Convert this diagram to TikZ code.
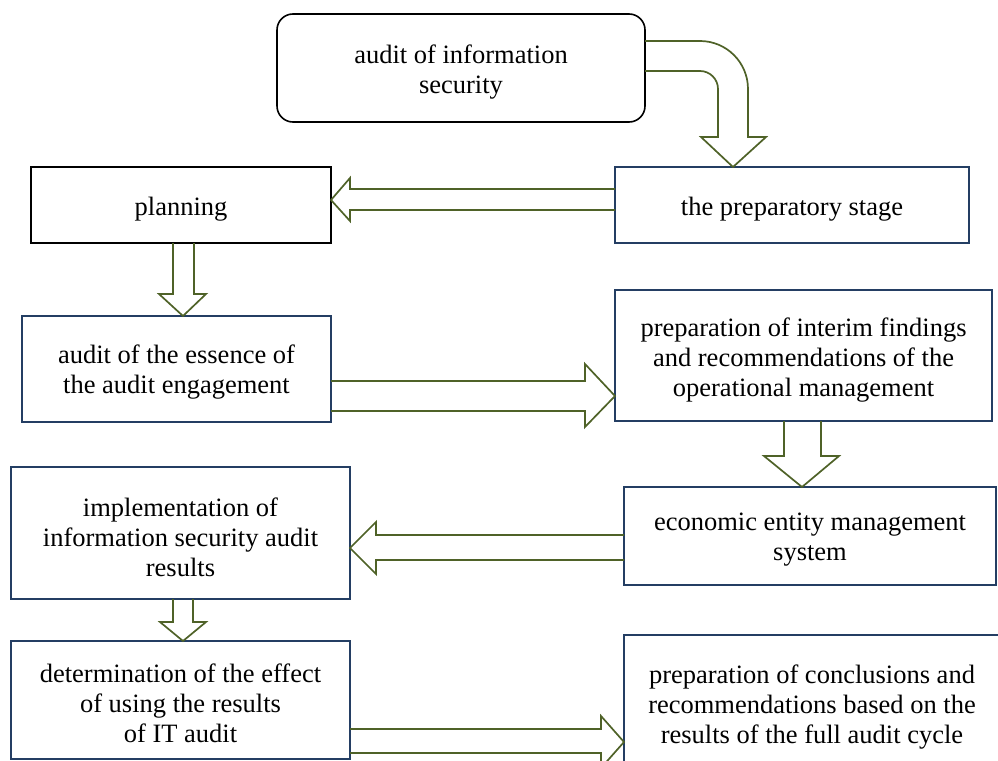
\documentclass[tikz,border=0pt]{standalone}
\usepackage{fontspec}
\setmainfont{Liberation Serif}
\usetikzlibrary{calc}
\definecolor{boxblue}{RGB}{36,62,99}
\definecolor{arrgreen}{RGB}{79,98,40}
\begin{document}
\begin{tikzpicture}[x=1pt,y=1pt,
  box/.style={draw=boxblue, line width=1.6pt, rectangle, outer sep=0pt},
  blackbox/.style={box, draw=black},
  lbl/.style={align=center, inner sep=0pt, font=\fontsize{26.5}{30}\selectfont},
  blk/.style={draw=arrgreen, line width=1.7pt, line join=miter}]
\useasboundingbox (0,0) rectangle (998,-760);
\clip (0,0) rectangle (998,-760);
% boxes
\node[blackbox, rounded corners=16pt, minimum width=368pt, minimum height=108pt] (top) at (461,-68) {};
\node[blackbox, minimum width=300pt, minimum height=76pt] (plan) at (181,-205) {};
\node[box, minimum width=354pt, minimum height=76pt] (prep) at (792,-205) {};
\node[box, minimum width=309pt, minimum height=106pt] (ess) at (176.5,-369) {};
\node[box, minimum width=377pt, minimum height=131pt] (int) at (803.5,-355.5) {};
\node[box, minimum width=372pt, minimum height=98pt] (eco) at (810,-536) {};
\node[box, minimum width=339pt, minimum height=132pt] (imp) at (180.5,-533) {};
\node[box, minimum width=339pt, minimum height=118pt] (det) at (180.5,-700) {};
\node[box, minimum width=376pt, minimum height=136pt] (con) at (812,-703) {};
% texts
\node[lbl] (topT) at ([yshift=-4.5pt]top.center) {audit of information\\security};
\node[lbl] (planT) at ([yshift=-4.5pt]plan.center) {planning};
\node[lbl] (prepT) at ([yshift=-4.5pt]prep.center) {the preparatory stage};
\node[lbl] (essT) at ([yshift=-3.5pt]ess.center) {audit of the essence of\\the audit engagement};
\node[lbl] (intT) at ([yshift=-4.5pt]int.center) {preparation of interim findings\\and recommendations of the\\operational management};
\node[lbl] (ecoT) at ([yshift=-4pt]eco.center) {economic entity management\\system};
\node[lbl] (impT) at ([yshift=-4pt]imp.center) {implementation of\\information security audit\\results};
\node[lbl] (detT) at ([yshift=-3pt]det.center) {determination of the effect\\of using the results\\of IT audit};
\node[lbl] (conT) at ([yshift=-4pt]con.center) {preparation of conclusions and\\recommendations based on the\\results of the full audit cycle};
% curved arrow top -> prep
\draw[blk] (top.east |- 0,-41) -- (700,-41) arc[start angle=90, end angle=0, radius=48pt]
  -- (748,-137) -- (766,-137) -- (prep.north -| 733,0) -- (701,-137) -- (718,-137)
  -- (718,-89) arc[start angle=0, end angle=90, radius=18pt] -- (top.east |- 0,-71);
% prep -> plan
\draw[blk] (prep.west |- 0,-189) -- (350,-189) -- (350,-178) -- (plan.east |- 0,-200)
  -- (350,-221) -- (350,-210) -- (prep.west |- 0,-210);
% plan -> essence
\draw[blk] (plan.south -| 173,0) -- (173,-294) -- (159,-294) -- (ess.north -| 183,0)
  -- (206,-294) -- (194,-294) -- (plan.south -| 194,0);
% essence -> interim
\draw[blk] (ess.east |- 0,-381) -- (585,-381) -- (585,-364) -- (int.west |- 0,-396)
  -- (585,-427) -- (585,-411) -- (ess.east |- 0,-411);
% interim -> economic
\draw[blk] (int.south -| 784,0) -- (784,-456) -- (764,-456) -- (eco.north -| 802,0)
  -- (839,-456) -- (821,-456) -- (int.south -| 821,0);
% economic -> implementation
\draw[blk] (eco.west |- 0,-535) -- (376,-535) -- (376,-522) -- (imp.east |- 0,-548)
  -- (376,-574) -- (376,-560) -- (eco.west |- 0,-560);
% implementation -> determination
\draw[blk] (imp.south -| 173,0) -- (173,-622) -- (160,-622) -- (det.north -| 183,0)
  -- (206,-622) -- (193,-622) -- (imp.south -| 193,0);
% determination -> conclusions
\draw[blk] (det.east |- 0,-729) -- (601,-729) -- (601,-716) -- (con.west |- 0,-742)
  -- (601,-768) -- (601,-753) -- (det.east |- 0,-753);
\end{tikzpicture}
\end{document}
